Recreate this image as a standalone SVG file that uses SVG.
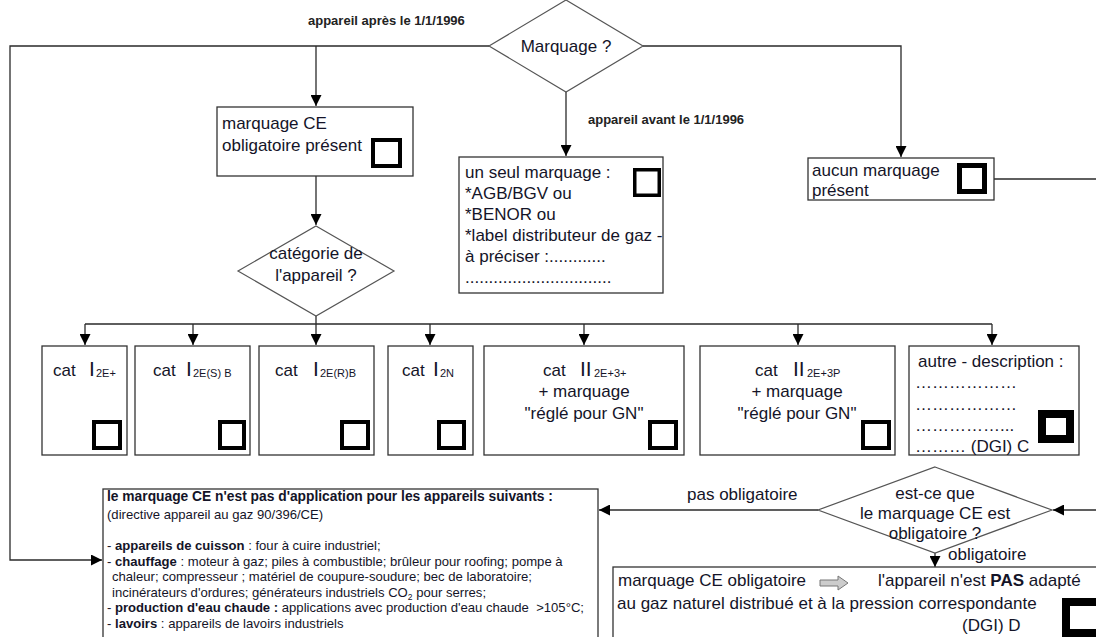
<svg xmlns="http://www.w3.org/2000/svg" width="1096" height="637" viewBox="0 0 1096 637">
<defs>
<marker id="arr" markerUnits="userSpaceOnUse" markerWidth="11" markerHeight="11" viewBox="0 0 10 10" refX="10" refY="5" orient="auto">
<path d="M0,0 L10,5 L0,10 z" fill="#000"/>
</marker>
<style>
.ln{fill:none;stroke:#2a2a2a;stroke-width:1.3}
.box{fill:#fff;stroke:#333;stroke-width:1.3}
.dia{fill:#fff;stroke:#555;stroke-width:1.2}
.cb{fill:none;stroke:#000;stroke-width:4}
.cb35{stroke-width:3.5}
.cb5{stroke-width:5}
.cb8{stroke-width:8}
.t{font-family:"Liberation Sans",Arial,sans-serif;font-size:17px;fill:#141428}
.b{font-family:"Liberation Sans",Arial,sans-serif;font-size:13px;font-weight:bold;fill:#222}
.s{font-family:"Liberation Sans",Arial,sans-serif;font-size:13.1px;fill:#141428}
.h{font-size:13.8px;font-weight:bold}
.m{text-anchor:middle}
.big{font-size:21px}
.sub{font-size:11px}
</style>
</defs>
<rect width="1096" height="637" fill="#fff"/>

<g id="connectors">
<path class="ln" d="M489,46 H10 V560 H102" marker-end="url(#arr)"/>
<path class="ln" d="M316,46 V106" marker-end="url(#arr)"/>
<path class="ln" d="M643,46 H901 V157" marker-end="url(#arr)"/>
<path class="ln" d="M566,92 V156" marker-end="url(#arr)"/>
<path class="ln" d="M316,176 V225" marker-end="url(#arr)"/>
<path class="ln" d="M316,316 V324 M85,324 H992"/>
<path class="ln" d="M85,324 V345" marker-end="url(#arr)"/>
<path class="ln" d="M193,324 V345" marker-end="url(#arr)"/>
<path class="ln" d="M316,324 V345" marker-end="url(#arr)"/>
<path class="ln" d="M430,324 V345" marker-end="url(#arr)"/>
<path class="ln" d="M584,324 V345" marker-end="url(#arr)"/>
<path class="ln" d="M798,324 V345" marker-end="url(#arr)"/>
<path class="ln" d="M992,324 V345" marker-end="url(#arr)"/>
<path class="ln" d="M994,179 H1096"/>
<path class="ln" d="M1096,510 H1053" marker-end="url(#arr)"/>
<path class="ln" d="M818,510 H599" marker-end="url(#arr)"/>
<path class="ln" d="M935,553 V567" marker-end="url(#arr)"/>
<text class="b" x="308" y="25">appareil après le 1/1/1996</text>
<text class="b" x="588" y="124">appareil avant le 1/1/1996</text>
<text class="t" x="687" y="500">pas obligatoire</text>
<text class="t" x="948" y="560">obligatoire</text>
</g>

<g id="marquage">
<polygon class="dia" points="566,0 643,46 566,92 489,46"/>
<text class="t m" x="566" y="52" font-size="18">Marquage ?</text>
</g>

<g id="ce-present">
<rect class="box" x="217" y="107" width="196" height="69"/>
<text class="t" x="222" y="129">marquage CE</text>
<text class="t" x="222" y="151">obligatoire présent</text>
<rect class="cb" x="373" y="140" width="27" height="26"/>
</g>

<g id="categorie">
<polygon class="dia" points="316,226 394,271 316,316 238,271"/>
<text class="t m" x="316" y="259">catégorie de</text>
<text class="t m" x="316" y="281">l'appareil ?</text>
</g>

<g id="un-seul">
<rect class="box" x="459" y="157" width="204" height="136"/>
<text class="t" x="465" y="178">un seul marquage :</text>
<text class="t" x="465" y="199">*AGB/BGV ou</text>
<text class="t" x="465" y="220">*BENOR ou</text>
<text class="t" x="465" y="241">*label distributeur de gaz -</text>
<text class="t" x="465" y="262">à préciser :............</text>
<text class="t" x="465" y="283">...............................</text>
<rect class="cb cb35" x="634.75" y="169.75" width="24.5" height="25.5"/>
</g>

<g id="aucun">
<rect class="box" x="808" y="158" width="186" height="42"/>
<text class="t" x="812" y="176">aucun marquage</text>
<text class="t" x="812" y="196">présent</text>
<rect class="cb cb5" x="959.5" y="165.5" width="25" height="26"/>
</g>

<g id="cat1">
<rect class="box" x="42" y="346" width="85" height="109"/>
<text class="t" x="53" y="376">cat<tspan class="big" x="89">I</tspan><tspan class="sub" x="96" dy="1">2E+</tspan></text>
<rect class="cb" x="94" y="422" width="26" height="26"/>
</g>

<g id="cat2">
<rect class="box" x="135" y="346" width="115" height="109"/>
<text class="t" x="153" y="376">cat<tspan class="big" x="186">I</tspan><tspan class="sub" x="193" dy="1">2E(S) B</tspan></text>
<rect class="cb" x="220" y="422" width="24" height="26"/>
</g>

<g id="cat3">
<rect class="box" x="259" y="346" width="115" height="109"/>
<text class="t" x="275" y="376">cat<tspan class="big" x="313">I</tspan><tspan class="sub" x="320" dy="1">2E(R)B</tspan></text>
<rect class="cb" x="342" y="422" width="26" height="26"/>
</g>

<g id="cat4">
<rect class="box" x="388" y="346" width="85" height="109"/>
<text class="t" x="402" y="376">cat<tspan class="big" x="433">I</tspan><tspan class="sub" x="440" dy="1">2N</tspan></text>
<rect class="cb" x="439" y="422" width="25" height="26"/>
</g>

<g id="cat5">
<rect class="box" x="484" y="346" width="200" height="109"/>
<text class="t" x="543" y="376">cat<tspan class="big" x="580" font-size="22">II</tspan><tspan class="sub" x="594" dy="1">2E+3+</tspan></text>
<text class="t m" x="584" y="397">+ marquage</text>
<text class="t m" x="584" y="419">"réglé pour GN"</text>
<rect class="cb" x="650" y="422" width="26" height="26"/>
</g>

<g id="cat6">
<rect class="box" x="700" y="346" width="195" height="109"/>
<text class="t" x="755" y="376">cat<tspan class="big" x="793" font-size="22">II</tspan><tspan class="sub" x="807" dy="1">2E+3P</tspan></text>
<text class="t m" x="797" y="397">+ marquage</text>
<text class="t m" x="797" y="419">"réglé pour GN"</text>
<rect class="cb" x="863" y="422" width="26" height="26"/>
</g>

<g id="autre">
<rect class="box" x="909" y="346" width="170" height="109"/>
<text class="t" x="918" y="367">autre - description :</text>
<text class="t" x="915" y="388">………………</text>
<text class="t" x="915" y="410">………………</text>
<text class="t" x="915" y="431">……………...</text>
<text class="t" x="915" y="452">……… (DGI) C</text>
<rect class="cb cb8" x="1042" y="414" width="28" height="25"/>
</g>

<g id="obligatoire-q">
<polygon class="dia" points="935,467 1052,510 935,553 818,510"/>
<text class="t m" x="935" y="499">est-ce que</text>
<text class="t m" x="935" y="519">le marquage CE est</text>
<text class="t m" x="935" y="539">obligatoire ?</text>
</g>

<g id="exceptions">
<rect class="box" x="103" y="489" width="495" height="160"/>
<text class="s h" x="107" y="501">le marquage CE n'est pas d'application pour les appareils suivants :</text>
<text class="s" x="107" y="519">(directive appareil au gaz 90/396/CE)</text>
<text class="s" x="107" y="550">- <tspan font-weight="bold">appareils de cuisson</tspan> : four à cuire industriel;</text>
<text class="s" x="107" y="566">- <tspan font-weight="bold">chauffage</tspan> : moteur à gaz; piles à combustible; brûleur pour roofing; pompe à</text>
<text class="s" x="112" y="581">chaleur; compresseur ; matériel de coupure-soudure; bec de laboratoire;</text>
<text class="s" x="112" y="597">incinérateurs d'ordures; générateurs industriels CO<tspan font-size="8.5" dy="3">2</tspan><tspan dy="-3"> pour serres;</tspan></text>
<text class="s" x="107" y="612">- <tspan font-weight="bold">production d'eau chaude :</tspan> applications avec production d'eau chaude &#160;&gt;105°C;</text>
<text class="s" x="107" y="628">- <tspan font-weight="bold">lavoirs</tspan> : appareils de lavoirs industriels</text>
</g>

<g id="non-adapte">
<rect class="box" x="613" y="567" width="500" height="90"/>
<text class="t" x="618" y="586">marquage CE obligatoire</text>
<path d="M820,580 H838 V576 L848,583 L838,590 V586 H820 Z" fill="#ccc" stroke="#777" stroke-width="1"/>
<text class="t" x="878" y="586">l'appareil n'est <tspan font-weight="bold">PAS</tspan> adapté</text>
<text class="t" x="617" y="609">au gaz naturel distribué et à la pression correspondante</text>
<text class="t" x="962" y="631">(DGI) D</text>
<rect class="cb cb8" x="1066" y="602" width="40" height="31"/>
</g>
</svg>
